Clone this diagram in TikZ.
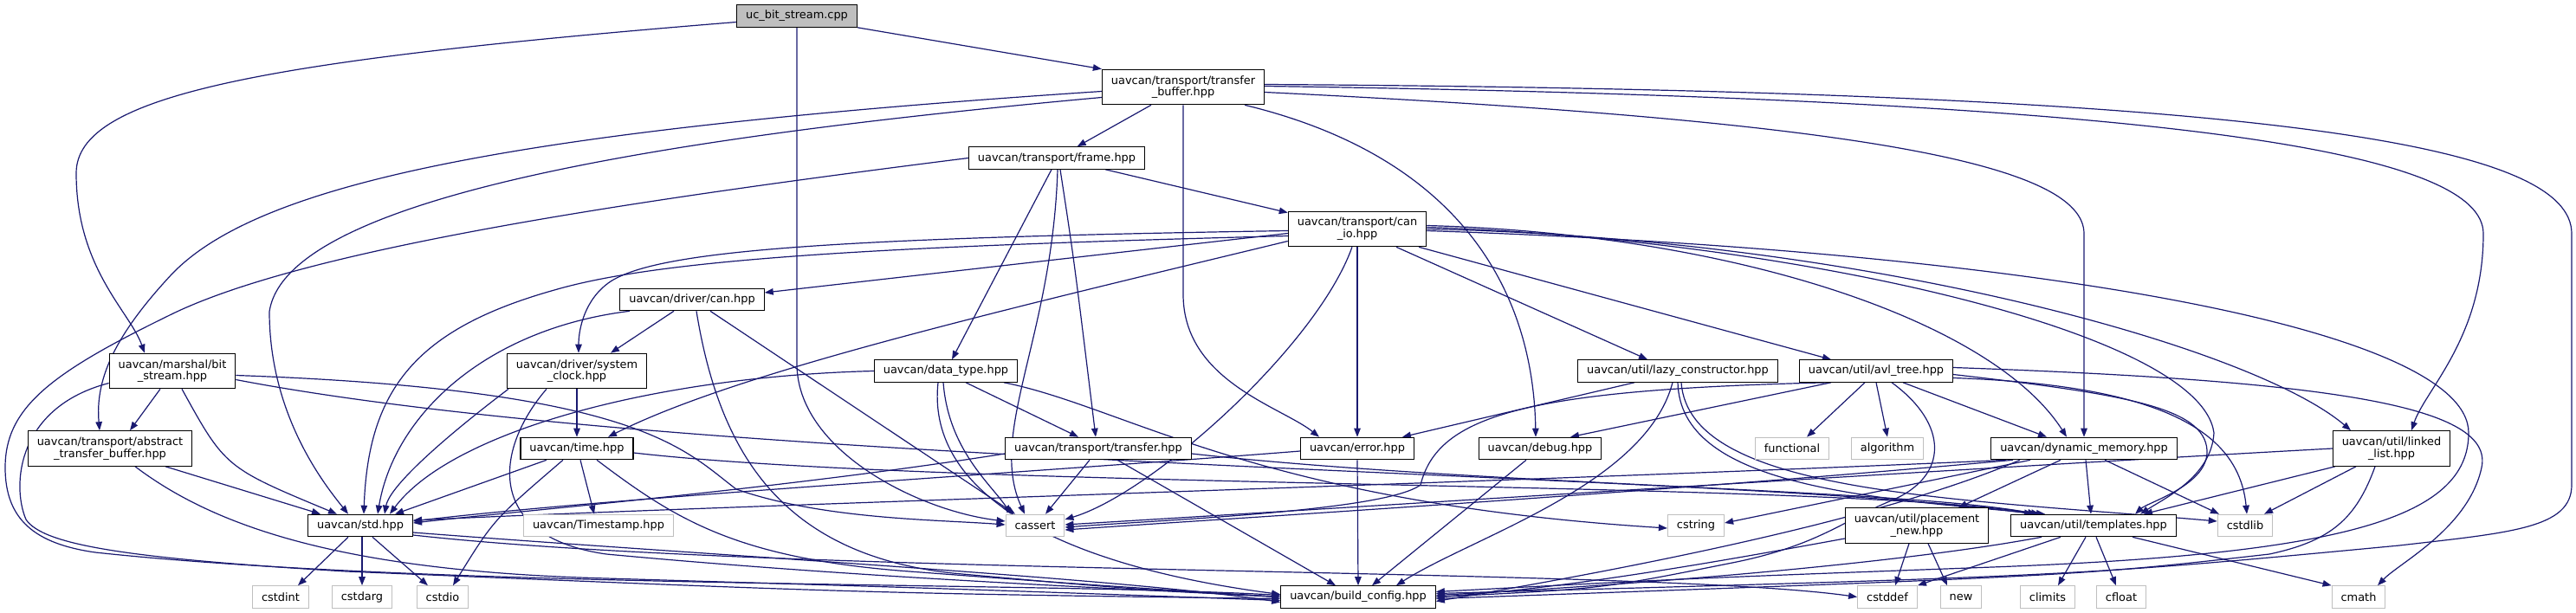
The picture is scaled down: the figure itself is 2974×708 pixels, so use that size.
\documentclass[tikz,border=0pt]{standalone}
\usepackage{fontspec}
\setmainfont{DejaVu Sans}
\usepackage{tikz}
\usepackage{xcolor}
\usetikzlibrary{arrows.meta,backgrounds}
\definecolor{Lien}{HTML}{191970}
\definecolor{GrisSys}{HTML}{BFBFBF}
\tikzset{
Fichier/.style={
 draw=black,
 fill=white,
 line width=1.1pt,
 inner xsep=10.5pt,
 inner ysep=2pt,
 minimum height=25.5pt,
 align=center,
 font=\fontsize{12.9}{13.4}\selectfont
 },
FichierSys/.style={
 Fichier,
 draw=GrisSys
 },
FichierRacine/.style={
 Fichier,
 fill=GrisSys
 },
DeuxLignes/.style={
 minimum height=40.5pt
 },
Inclut/.style={
 draw=Lien,
 line width=1.2pt,
 -{Triangle[length=10pt,width=7.5pt]}
 }
}
\begin{document}
\begin{tikzpicture}[x=1pt,y=-1pt]
\useasboundingbox (0,0) rectangle (2974,708);
\node[FichierRacine] (ucbs) at (920,18.5) {uc\_bit\_stream.cpp};
\node[Fichier,DeuxLignes] (tbuf) at (1366,100.5) {uavcan/transport/transfer\\\_buffer.hpp};
\node[Fichier] (frame) at (1220,182.5) {uavcan/transport/frame.hpp};
\node[Fichier,DeuxLignes] (canio) at (1567,264.5) {uavcan/transport/can\\\_io.hpp};
\node[Fichier] (drvcan) at (799,346) {uavcan/driver/can.hpp};
\node[Fichier,DeuxLignes] (bitstr) at (199,428.5) {uavcan/marshal/bit\\\_stream.hpp};
\node[Fichier,DeuxLignes] (abstr) at (127,518) {uavcan/transport/abstract\\\_transfer\_buffer.hpp};
\node[Fichier,DeuxLignes] (sysclk) at (666,428.5) {uavcan/driver/system\\\_clock.hpp};
\node[Fichier] (temps) at (666,518) {uavcan/time.hpp};
\node[Fichier] (stdh) at (416,607) {uavcan/std.hpp};
\node[FichierSys] (tstamp) at (691,607) {uavcan/Timestamp.hpp};
\node[FichierSys] (cstdint) at (324,689.5) {cstdint};
\node[FichierSys] (cstdarg) at (418,689.5) {cstdarg};
\node[FichierSys] (cstdio) at (511,689.5) {cstdio};
\node[Fichier] (dtype) at (1092,428.5) {uavcan/data\_type.hpp};
\node[Fichier] (xfer) at (1268,518) {uavcan/transport/transfer.hpp};
\node[Fichier] (err) at (1567,518) {uavcan/error.hpp};
\node[Fichier] (dbg) at (1778,518) {uavcan/debug.hpp};
\node[FichierSys] (cassert) at (1195,607) {cassert};
\node[FichierSys] (cstring) at (1958,607) {cstring};
\node[Fichier] (bcfg) at (1568,689.5) {uavcan/build\_config.hpp};
\node[Fichier] (lazy) at (1937,428.5) {uavcan/util/lazy\_constructor.hpp};
\node[Fichier] (avl) at (2166,428.5) {uavcan/util/avl\_tree.hpp};
\node[FichierSys] (functional) at (2069,518) {functional};
\node[FichierSys] (algorithm) at (2179,518) {algorithm};
\node[Fichier] (dynmem) at (2406,518) {uavcan/dynamic\_memory.hpp};
\node[Fichier,DeuxLignes] (llist) at (2761,518) {uavcan/util/linked\\\_list.hpp};
\node[Fichier,DeuxLignes] (pnew) at (2213,607) {uavcan/util/placement\\\_new.hpp};
\node[Fichier] (tmpl) at (2417,607) {uavcan/util/templates.hpp};
\node[FichierSys] (cstdlib) at (2592,607) {cstdlib};
\node[FichierSys] (cstddef) at (2179,689.5) {cstddef};
\node[FichierSys] (new) at (2264,689.5) {new};
\node[FichierSys] (climits) at (2364,689.5) {climits};
\node[FichierSys] (cfloat) at (2449,689.5) {cfloat};
\node[FichierSys] (cmath) at (2723,689.5) {cmath};
\begin{pgfonlayer}{background}
\draw[Inclut] (ucbs.south east) -- (tbuf.north west);
\draw[Inclut] ([yshift=-7pt]ucbs.west) .. controls (300,70) and (88,110) .. (88,200) .. controls (88,310) and (150,360) .. ([xshift=-32pt]bitstr.north);
\draw[Inclut] (ucbs.south) -- (920,420) .. controls (920,520) and (1060,590) .. ([yshift=5pt]cassert.west);
\draw[Inclut] (tbuf) -- (frame);
\draw[Inclut] ([yshift=-5pt]tbuf.west) .. controls (600,150) and (300,210) .. (198,317) .. controls (130,390) and (110,440) .. ([xshift=-12pt]abstr.north);
\draw[Inclut] ([yshift=-12pt]tbuf.west) .. controls (750,160) and (330,230) .. (311,360) .. controls (311,480) and (375,560) .. ([xshift=-14pt]stdh.north);
\draw[Inclut] ([yshift=-6pt]tbuf.east) .. controls (2150,140) and (2406,190) .. (2406,270) -- (dynmem.north);
\draw[Inclut] ([yshift=1pt]tbuf.east) .. controls (2550,115) and (2867,180) .. (2867,270) .. controls (2867,390) and (2800,450) .. ([xshift=23pt]llist.north);
\draw[Inclut] ([yshift=3pt]tbuf.east) .. controls (2650,105) and (2969,170) .. (2969,270) -- (2969,560) .. controls (2969,610) and (2900,615) .. (2770,630) .. controls (2400,665) .. ([yshift=4pt]bcfg.east);
\draw[Inclut] (tbuf.south) -- (1366,340) .. controls (1366,440) and (1480,470) .. ([xshift=-44pt]err.north);
\draw[Inclut] ([xshift=71pt]tbuf.south) .. controls (1680,180) and (1770,330) .. ([xshift=-5pt]dbg.north);
\draw[Inclut] (frame) -- (canio);
\draw[Inclut] (frame.west) .. controls (700,235) and (350,290) .. (200,362) .. controls (60,430) and (6,470) .. (6,540) .. controls (6,600) and (40,628) .. (110,638) .. controls (500,680) and (1200,672) .. ([yshift=2pt]bcfg.west);
\draw[Inclut] ([xshift=-6pt]frame.south) -- ([xshift=7pt]dtype.north);
\draw[Inclut] ([xshift=4pt]frame.south) .. controls (1240,300) .. ([xshift=-3pt]xfer.north);
\draw[Inclut] ([xshift=1pt]frame.south) .. controls (1215,390) and (1140,500) .. ([xshift=-12pt]cassert.north);
\draw[Inclut] ([yshift=-2pt]canio.west) .. controls (950,275) and (760,290) .. (705,325) .. controls (675,345) and (668,380) .. ([xshift=2pt]sysclk.north);
\draw[Inclut] ([yshift=-8pt]canio.west) .. controls (1000,285) and (760,300) .. (640,335) .. controls (480,380) and (425,450) .. ([xshift=4pt]stdh.north);
\draw[Inclut] ([yshift=-5pt]canio.west) -- ([yshift=8pt]drvcan.east);
\draw[Inclut] ([yshift=-14pt]canio.west) .. controls (1150,360) and (850,430) .. ([xshift=36pt]temps.north);
\draw[Inclut] ([xshift=-6pt]canio.south) .. controls (1520,400) and (1330,570) .. ([yshift=7pt]cassert.east);
\draw[Inclut] (canio.south) -- (err.north);
\draw[Inclut] ([xshift=45pt]canio.south) -- ([xshift=-35pt]lazy.north);
\draw[Inclut] ([xshift=71pt]canio.south) -- ([xshift=-52pt]avl.north);
\draw[Inclut] ([yshift=4pt]canio.east) .. controls (2000,270) and (2300,370) .. ([xshift=-20pt]dynmem.north);
\draw[Inclut] ([yshift=2pt]canio.east) .. controls (2050,275) and (2540,380) .. (2556,500) .. controls (2553,550) and (2500,575) .. ([xshift=54pt]tmpl.north);
\draw[Inclut] (canio.east) .. controls (2150,275) and (2600,400) .. ([xshift=-47pt]llist.north);
\draw[Inclut] ([yshift=-2pt]canio.east) .. controls (2350,290) and (2850,380) .. (2850,500) .. controls (2850,600) and (2700,640) .. (2300,655) .. controls (1950,668) .. ([yshift=6pt]bcfg.east);
\draw[Inclut] ([xshift=-72pt]drvcan.south) .. controls (560,380) and (455,480) .. ([xshift=20pt]stdh.north);
\draw[Inclut] ([xshift=-21pt]drvcan.south) -- ([xshift=39pt]sysclk.north);
\draw[Inclut] ([xshift=5pt]drvcan.south) .. controls (830,520) and (900,640) .. (1100,662) .. controls (1300,680) .. (bcfg.west);
\draw[Inclut] ([xshift=21pt]drvcan.south) -- ([xshift=-23pt]cassert.north);
\draw[Inclut] ([xshift=-79pt]sysclk.south) .. controls (520,500) and (450,560) .. ([xshift=28pt]stdh.north);
\draw[Inclut] ([xshift=-35pt]sysclk.south) .. controls (570,520) and (560,620) .. (700,640) .. controls (1000,668) and (1300,680) .. (bcfg.west);
\draw[Inclut] (sysclk) -- (temps);
\draw[Inclut] ([xshift=-35pt]temps.south) -- ([xshift=40pt]stdh.north);
\draw[Inclut] ([xshift=-16pt]temps.south) .. controls (570,600) .. ([xshift=12pt]cstdio.north);
\draw[Inclut] ([xshift=4pt]temps.south) -- ([xshift=-5pt]tstamp.north);
\draw[Inclut] ([xshift=23pt]temps.south) .. controls (780,600) and (850,645) .. (1050,660) .. controls (1250,675) .. (bcfg.west);
\draw[Inclut] ([yshift=-5pt]temps.east) .. controls (1100,565) and (2100,555) .. ([xshift=-62pt]tmpl.north);
\draw[Inclut] ([xshift=-14pt]bitstr.south) -- ([xshift=23pt]abstr.north);
\draw[Inclut] ([xshift=11pt]bitstr.south) .. controls (260,540) .. ([xshift=-27pt]stdh.north);
\draw[Inclut] ([yshift=-14pt]bitstr.west) .. controls (20,470) and (13,560) .. (30,600) .. controls (50,630) and (150,645) .. (400,660) .. controls (1000,685) .. ([yshift=-2pt]bcfg.west);
\draw[Inclut] ([yshift=-5pt]bitstr.east) .. controls (740,450) and (790,520) .. (850,565) .. controls (950,600) and (1080,600) .. ([yshift=1pt]cassert.west);
\draw[Inclut] ([yshift=-10pt]bitstr.east) .. controls (800,540) and (2000,545) .. ([xshift=-70pt]tmpl.north);
\draw[Inclut] ([xshift=64pt]abstr.south) -- ([xshift=-46pt]stdh.north);
\draw[Inclut] ([xshift=29pt]abstr.south) .. controls (250,610) and (400,660) .. (700,668) .. controls (1100,680) .. ([yshift=-4pt]bcfg.west);
\draw[Inclut] ([xshift=-14pt]stdh.south) -- ([xshift=20pt]cstdint.north);
\draw[Inclut] ([xshift=2pt]stdh.south) -- (cstdarg.north);
\draw[Inclut] ([xshift=14pt]stdh.south) -- ([xshift=-17pt]cstdio.north);
\draw[Inclut] ([yshift=-8pt]stdh.east) .. controls (800,640) and (1300,668) .. ([yshift=-6pt]bcfg.west);
\draw[Inclut] ([yshift=-11pt]stdh.east) .. controls (900,665) and (1900,655) .. (cstddef.west);
\draw[Inclut] ([xshift=23pt]dtype.south) -- ([xshift=-23pt]xfer.north);
\draw[Inclut] ([xshift=-3pt]dtype.south) .. controls (1095,520) and (1145,560) .. ([xshift=-28pt]cassert.north);
\draw[Inclut] ([xshift=-9pt]dtype.south) .. controls (1070,560) and (1200,650) .. ([yshift=3pt]bcfg.west);
\draw[Inclut] (dtype.west) .. controls (750,435) and (520,500) .. ([xshift=34pt]stdh.north);
\draw[Inclut] ([xshift=67pt]dtype.south) .. controls (1300,470) and (1450,580) .. ([yshift=-3pt]cstring.west);
\draw[Inclut] ([xshift=-10pt]xfer.south) -- ([xshift=12pt]cassert.north);
\draw[Inclut] ([xshift=22pt]xfer.south) -- ([xshift=-26pt]bcfg.north);
\draw[Inclut] ([yshift=-6pt]xfer.west) .. controls (900,565) and (600,590) .. ([yshift=3pt]stdh.east);
\draw[Inclut] ([yshift=-6pt]xfer.east) .. controls (1700,560) and (2200,565) .. ([xshift=-66pt]tmpl.north);
\draw[Inclut] (err.south) -- (bcfg.north);
\draw[Inclut] ([yshift=-3pt]err.west) .. controls (1200,545) and (700,575) .. ([yshift=5pt]stdh.east);
\draw[Inclut] ([xshift=-16pt]dbg.south) -- ([xshift=16pt]bcfg.north);
\draw[Inclut] ([xshift=-50pt]lazy.south) -- ([xshift=52pt]err.north);
\draw[Inclut] ([xshift=-6pt]lazy.south) .. controls (1900,560) and (1700,620) .. ([xshift=44pt]bcfg.north);
\draw[Inclut] (lazy.south) .. controls (1940,560) and (2150,575) .. ([xshift=-56pt]tmpl.north);
\draw[Inclut] ([xshift=4pt]lazy.south) .. controls (1950,570) and (2250,575) .. ([yshift=5pt]cstdlib.west);
\draw[Inclut] ([xshift=-13pt]avl.south) -- ([xshift=17pt]functional.north);
\draw[Inclut] (avl.south) -- (algorithm.north);
\draw[Inclut] ([xshift=31pt]avl.south) -- ([xshift=-43pt]dynmem.north);
\draw[Inclut] ([xshift=-52pt]avl.south) -- ([xshift=35pt]dbg.north);
\draw[Inclut] ([xshift=-56pt]avl.south) .. controls (1760,450) and (1660,480) .. (1640,560) .. controls (1600,590) and (1350,600) .. ([yshift=-2pt]cassert.east);
\draw[Inclut] ([xshift=18pt]avl.south) .. controls (2250,490) and (2250,550) .. (2184,578) .. controls (2130,600) and (2100,630) .. (2000,650) .. controls (1850,680) .. (bcfg.east);
\draw[Inclut] ([yshift=-4pt]avl.east) .. controls (2450,455) and (2545,470) .. (2548,520) .. controls (2550,560) and (2480,580) .. ([xshift=48pt]tmpl.north);
\draw[Inclut] ([yshift=-8pt]avl.east) .. controls (2500,445) and (2585,500) .. ([xshift=2pt]cstdlib.north);
\draw[Inclut] ([yshift=4pt]avl.east) .. controls (2700,440) and (2880,470) .. (2865,540) .. controls (2850,610) and (2770,650) .. ([xshift=22pt]cmath.north);
\draw[Inclut] ([xshift=-27pt]dynmem.south) -- ([xshift=48pt]pnew.north);
\draw[Inclut] ([xshift=2pt]dynmem.south) -- ([xshift=-3pt]tmpl.north);
\draw[Inclut] ([xshift=24pt]dynmem.south) -- ([xshift=-30pt]cstdlib.north);
\draw[Inclut] ([xshift=-62pt]dynmem.south) -- ([yshift=3pt]cstring.east);
\draw[Inclut] ([xshift=-90pt]dynmem.south) .. controls (1800,555) and (800,585) .. ([yshift=6pt]stdh.east);
\draw[Inclut] ([xshift=-82pt]dynmem.south) .. controls (1900,570) and (1400,600) .. ([yshift=-5pt]cassert.east);
\draw[Inclut] ([xshift=-74pt]dynmem.south) .. controls (2150,610) and (1800,670) .. ([yshift=-5pt]bcfg.east);
\draw[Inclut] ([xshift=-65pt]llist.south) -- ([xshift=58pt]tmpl.north);
\draw[Inclut] ([xshift=-41pt]llist.south) -- ([xshift=22pt]cstdlib.north);
\draw[Inclut] ([xshift=-19pt]llist.south) .. controls (2720,600) and (2690,625) .. (2620,640) .. controls (2400,665) .. ([yshift=-2pt]bcfg.east);
\draw[Inclut] (llist.west) .. controls (2200,545) and (1500,590) .. ([yshift=1pt]cassert.east);
\draw[Inclut] ([xshift=-9pt]pnew.south) -- ([xshift=9pt]cstddef.north);
\draw[Inclut] ([xshift=13pt]pnew.south) -- ([xshift=-16pt]new.north);
\draw[Inclut] ([yshift=-15pt]pnew.west) .. controls (1950,655) and (1800,680) .. (bcfg.east);
\draw[Inclut] ([xshift=-9pt]tmpl.south) -- ([xshift=12pt]climits.north);
\draw[Inclut] ([xshift=3pt]tmpl.south) -- ([xshift=-6pt]cfloat.north);
\draw[Inclut] ([xshift=-38pt]tmpl.south) -- (cstddef.north east);
\draw[Inclut] ([xshift=45pt]tmpl.south) -- (cmath.north west);
\draw[Inclut] ([xshift=-60pt]tmpl.south) .. controls (2200,650) and (1900,675) .. ([yshift=2pt]bcfg.east);
\end{pgfonlayer}
\end{tikzpicture}
\end{document}
